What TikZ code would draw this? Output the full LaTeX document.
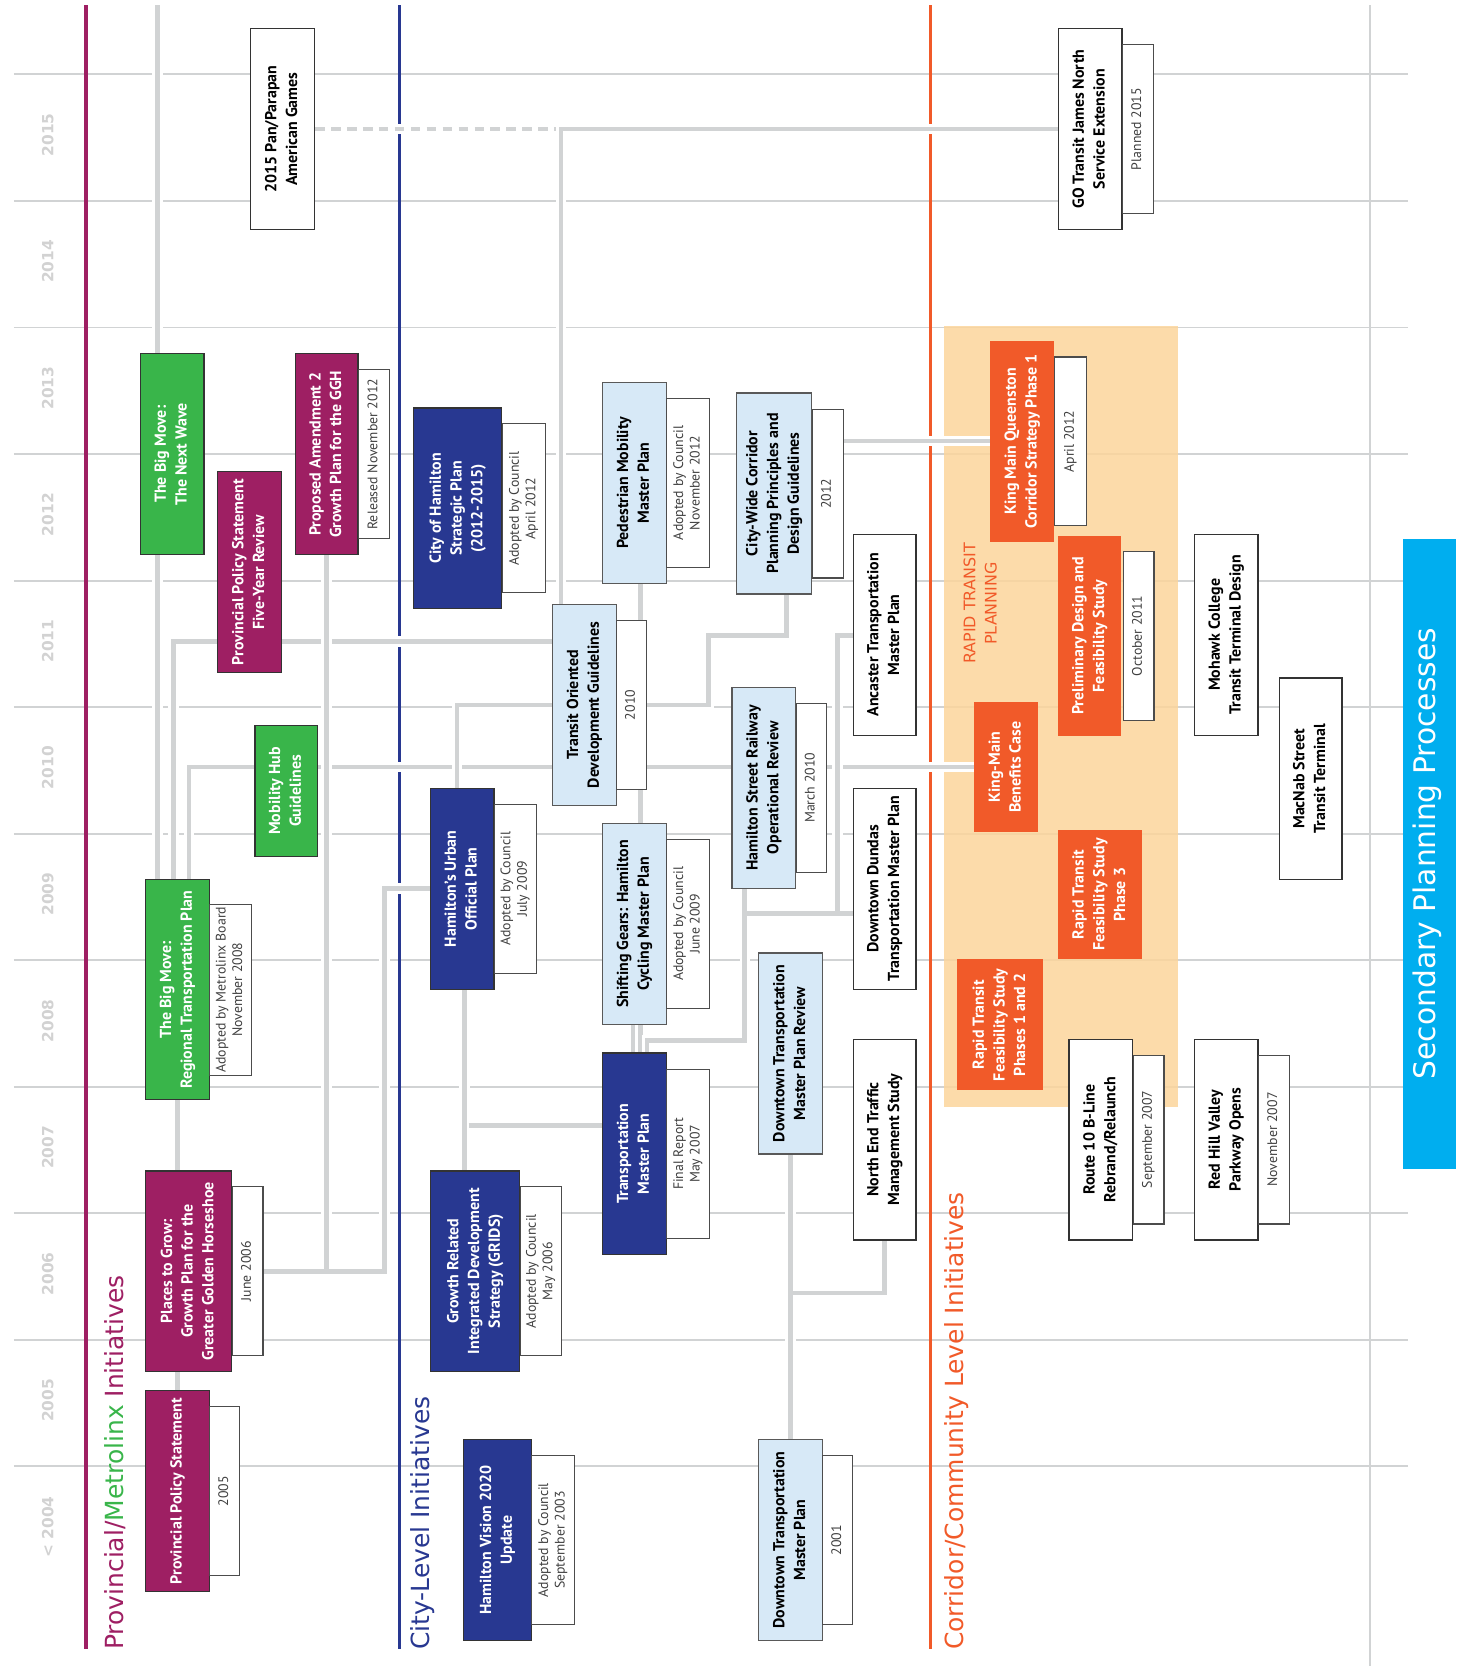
\documentclass[tikz,border=0pt]{standalone}
\usepackage{fontspec}
\setmainfont{PT Sans}
\newfontfamily\headfont{DejaVu Sans}
\usepackage{graphicx}
\usepackage{tikz}
\usetikzlibrary{positioning}
\pgfdeclarelayer{grid}
\pgfdeclarelayer{links}
\pgfsetlayers{grid,links,main}
\definecolor{provred}{HTML}{9E1F63}
\definecolor{mxgreen}{HTML}{39B54A}
\definecolor{cityblue}{HTML}{283891}
\definecolor{paleblue}{HTML}{D7E9F7}
\definecolor{rtorange}{HTML}{F15A29}
\definecolor{rtbg}{HTML}{FCD59B}
\definecolor{secblue}{HTML}{00AEEF}
\definecolor{linegray}{HTML}{D1D3D4}
\definecolor{yeargray}{HTML}{D2D2D2}
\definecolor{boxedge}{HTML}{333333}
\newcommand{\vtext}[1]{\rotatebox{90}{\begin{tabular}{@{}c@{}}#1\end{tabular}}}
\newcommand{\boxfont}{\fontsize{15}{19.5}\selectfont\bfseries}
\newcommand{\datefont}{\fontsize{13}{15.5}\selectfont}

\begin{document}
\begin{tikzpicture}[x=1pt, y=-1pt,
    yearline/.style={draw=linegray, line width=1.8pt},
    sideline/.style={line width=3pt},
    conn/.style={draw=linegray, line width=4.4pt,
      preaction={draw=white, line width=10pt, solid}},
    plan/.style={draw=boxedge, line width=1.2pt, inner sep=0pt,
      minimum width=60, minimum height=189, font=\boxfont},
    provbox/.style={plan, fill=provred, text=white},
    mxbox/.style={plan, fill=mxgreen, text=white},
    citybox/.style={plan, fill=cityblue, text=white},
    palebox/.style={plan, fill=paleblue, draw=black!65},
    plainbox/.style={plan, fill=white},
    rtbox/.style={plan, fill=rtorange, draw=none, text=white},
    datebox/.style={draw=black!70, line width=1pt, fill=white, inner sep=0pt,
      minimum width=29, minimum height=159, font=\datefont, text=black!75},
    yearlab/.style={font=\headfont\bfseries\fontsize{14.5}{16}\selectfont,
      text=yeargray},
    head/.style={font=\headfont\fontsize{23.5}{28}\selectfont, anchor=west,
      inner sep=0pt}
  ]
  \useasboundingbox (0,0) rectangle (1381,1568);

  \begin{pgfonlayer}{grid}
    \foreach \i in {0,...,11}
      \draw[yearline] (13,{70+119.1*\i}) -- (1325,{70+119.1*\i});
    \draw[yearline] (1289,5) -- (1289,1568);
    \fill[rtbg, opacity=.85] (888,307) rectangle (1109,1042);
    \draw[sideline, provred] (81,5) -- (81,1552);
    \draw[sideline, cityblue] (376,5) -- (376,1552);
    \draw[sideline, rtorange] (876,5) -- (876,1552);
  \end{pgfonlayer}

  \foreach \yr [count=\i from 0] in {2015,2014,2013,2012,2011,2010,2009,2008,2007,2006,2005,{< 2004}}
    \node[yearlab, rotate=90] (yr\i) at (45,{127+119.1*\i}) {\yr};

  \node[mxbox] (nextwave) at (162,427.5) {\vtext{The Big Move:\\The Next Wave}};
  \node[provbox] (ppsreview) at (235,538.5)
    {\vtext{Provincial Policy Statement\\Five-Year Review}};
  \node[provbox, minimum width=59] (amend) at (307.5,427.5)
    {\vtext{Proposed Amendment 2\\Growth Plan for the GGH}};
  \node[datebox, right=-0.6pt of amend] (amendd) {\vtext{Released November 2012}};
  \node[mxbox, minimum width=59, minimum height=123] (mobhub) at (269.5,744.5)
    {\vtext{Mobility Hub\\Guidelines}};
  \node[mxbox, minimum height=207] (rtp) at (167,931.5)
    {\vtext{The Big Move:\\Regional Transportation Plan}};
  \node[datebox, minimum width=39, minimum height=161, right=-0.6pt of rtp] (rtpd)
    {\vtext{Adopted by Metrolinx Board\\November 2008}};
  \node[provbox, minimum width=81] (ptg) at (177.5,1196.5)
    {\vtext{Places to Grow:\\Growth Plan for the\\Greater Golden Horseshoe}};
  \node[datebox, right=-0.6pt of ptg] (ptgd) {\vtext{June 2006}};
  \node[provbox] (pps) at (167,1403.5) {\vtext{Provincial Policy Statement}};
  \node[datebox, minimum width=28, right=-0.6pt of pps] (ppsd) {\vtext{2005}};
  \node[plainbox] (panam) at (266,121.5) {\vtext{2015 Pan/Parapan\\American Games}};

  \node[citybox, minimum width=83] (strat) at (430.5,478.5)
    {\vtext{City of Hamilton\\Strategic Plan\\(2012-2015)}};
  \node[datebox, minimum width=41, right=-0.6pt of strat] (stratd)
    {\vtext{Adopted by Council\\April 2012}};
  \node[palebox] (ped) at (597,454.5) {\vtext{Pedestrian Mobility\\Master Plan}};
  \node[datebox, minimum width=40, right=-0.6pt of ped] (pedd)
    {\vtext{Adopted by Council\\November 2012}};
  \node[palebox, minimum width=71] (cwc) at (728.5,464.5)
    {\vtext{City-Wide Corridor\\Planning Principles and\\Design Guidelines}};
  \node[datebox, right=-0.6pt of cwc] (cwcd) {\vtext{2012}};
  \node[palebox] (tod) at (550,663.5)
    {\vtext{Transit Oriented\\Development Guidelines}};
  \node[datebox, minimum width=28, right=-0.6pt of tod] (todd) {\vtext{2010}};
  \node[citybox] (uop) at (435,836.5) {\vtext{Hamilton’s Urban\\Official Plan}};
  \node[datebox, minimum width=39, right=-0.6pt of uop] (uopd)
    {\vtext{Adopted by Council\\July 2009}};
  \node[palebox] (hsr) at (719,741.5)
    {\vtext{Hamilton Street Railway\\Operational Review}};
  \node[datebox, minimum width=28, right=-0.6pt of hsr] (hsrd) {\vtext{March 2010}};
  \node[palebox] (gears) at (597,869.5)
    {\vtext{Shifting Gears: Hamilton\\Cycling Master Plan}};
  \node[datebox, minimum width=40, right=-0.6pt of gears] (gearsd)
    {\vtext{Adopted by Council\\June 2009}};
  \node[citybox, minimum height=190] (tmp) at (597,1086)
    {\vtext{Transportation\\Master Plan}};
  \node[datebox, minimum width=40, right=-0.6pt of tmp] (tmpd)
    {\vtext{Final Report\\May 2007}};
  \node[palebox] (dtmpr) at (744,991.5)
    {\vtext{Downtown Transportation\\Master Plan Review}};
  \node[citybox, minimum width=84] (grids) at (447,1196.5)
    {\vtext{Growth Related\\Integrated Development\\Strategy (GRIDS)}};
  \node[datebox, minimum width=39, right=-0.6pt of grids] (gridsd)
    {\vtext{Adopted by Council\\May 2006}};
  \node[citybox, minimum width=64] (vision) at (468,1449.5)
    {\vtext{Hamilton Vision 2020\\Update}};
  \node[datebox, minimum width=40, right=-0.6pt of vision] (visiond)
    {\vtext{Adopted by Council\\September 2003}};
  \node[palebox] (dtmp) at (744,1449.5)
    {\vtext{Downtown Transportation\\Master Plan}};
  \node[datebox, minimum width=28, right=-0.6pt of dtmp] (dtmpd) {\vtext{2001}};
  \node[plainbox, minimum width=59] (ancaster) at (832.5,597.5)
    {\vtext{Ancaster Transportation\\Master Plan}};
  \node[plainbox, minimum width=59] (dundas) at (832.5,836.5)
    {\vtext{Downtown Dundas\\Transportation Master Plan}};
  \node[plainbox, minimum width=59] (northend) at (832.5,1072.5)
    {\vtext{North End Traffic\\Management Study}};

  \node[rtbox] (kmq) at (962,415.5)
    {\vtext{King Main Queenston\\Corridor Strategy Phase 1}};
  \node[datebox, minimum width=30, right=-0.6pt of kmq] (kmqd) {\vtext{April 2012}};
  \node[rtbox, minimum width=59] (prelim) at (1025.5,598.5)
    {\vtext{Preliminary Design and\\Feasibility Study}};
  \node[datebox, right=1pt of prelim] (prelimd) {\vtext{October 2011}};
  \node[rtbox, minimum height=122] (benefits) at (947,722)
    {\vtext{King-Main\\Benefits Case}};
  \node[rtbox, minimum width=79, minimum height=122] (rtfs3) at (1035.5,842)
    {\vtext{Rapid Transit\\Feasibility Study\\Phase 3}};
  \node[rtbox, minimum width=81, minimum height=123] (rtfs12) at (941.5,964.5)
    {\vtext{Rapid Transit\\Feasibility Study\\Phases 1 and 2}};
  \node[plainbox] (route10) at (1036,1072.5)
    {\vtext{Route 10 B-Line\\Rebrand/Relaunch}};
  \node[datebox, right=-0.6pt of route10] (route10d) {\vtext{September 2007}};
  \node[plainbox] (mohawk) at (1154,597.5)
    {\vtext{Mohawk College\\Transit Terminal Design}};
  \node[plainbox, minimum width=59, minimum height=190] (macnab) at (1233.5,733)
    {\vtext{MacNab Street\\Transit Terminal}};
  \node[plainbox] (redhill) at (1154,1072.5)
    {\vtext{Red Hill Valley\\Parkway Opens}};
  \node[datebox, right=-0.6pt of redhill] (redhilld) {\vtext{November 2007}};
  \node[plainbox] (gotransit) at (1026,121.5)
    {\vtext{GO Transit James North\\Service Extension}};
  \node[datebox, right=-0.6pt of gotransit] (gotransitd) {\vtext{Planned 2015}};

  \node[font=\headfont\fontsize{15}{20}\selectfont, text=rtorange] (rtlabel)
    at (924,568) {\vtext{RAPID TRANSIT\\PLANNING}};
  \node[fill=secblue, minimum width=50, minimum height=593, inner sep=0pt,
    text=white, font=\headfont\fontsize{28}{32}\selectfont] (secondary)
    at (1345,803.5) {\vtext{Secondary Planning Processes}};

  \node[head, rotate=90] (provhead) at (108,1553)
    {\textcolor{provred}{Provincial/}\textcolor{mxgreen}{Metrolinx}
     \textcolor{provred}{Initiatives}};
  \node[head, rotate=90, text=cityblue] (cityhead) at (398,1553)
    {City-Level Initiatives};
  \node[head, rotate=90, text=rtorange] (rthead) at (900,1553)
    {Corridor/Community Level Initiatives};

  \begin{pgfonlayer}{links}
    \coordinate (bigtop) at (148,5);
    \draw[conn] (bigtop) -- (bigtop |- rtp.north);
    \draw[conn] (tod.west |- 0,604) -| (rtp.north -| 163,0);
    \draw[conn] (benefits.west) -| (rtp.north -| 178,0);
    \draw[conn] (rtp.south) -- (pps.north);
    \draw[conn] (uop.west) -| (362,1196.5) -- (ptgd.east)
      (amend.south) -- (amend.south |- ptgd.east);
    \draw[conn] (uop.north -| 430,0) |- (tod.west);
    \draw[conn] (uop.south -| 437,0) -- (grids.north -| 437,0)
      (441,1059) -- (tmp.west |- 0,1059);
    \coordinate (gamesjoin) at (528,121.5);
    \draw[conn, dash pattern=on 9pt off 6pt] (panam.east) -- (gamesjoin);
    \draw[conn] (gotransit.west) -- (gamesjoin) -- (gamesjoin |- tod.north);
    \draw[conn] (gears.south -| 596,0) -- (tmp.north -| 596,0);
    \draw[conn] (ped.south -| 603,0) -- (tmp.north -| 603,0);
    \draw[conn] (hsr.south -| 701,0) -- (701,979) -| (tmp.north -| 609,0)
      (701,860) -- (dundas.west |- 0,860)
      (ancaster.west |- 0,598) -| (788,860);
    \draw[conn] (cwc.south -| 740,0) |- (667,598) |- (todd.east);
    \draw[conn] (cwcd.east |- 0,415) -- (kmq.west |- 0,415);
    \draw[conn] (dtmpr.south) -- (dtmp.north)
      (dtmpr.south |- 0,1217) -| (northend.south);
  \end{pgfonlayer}
\end{tikzpicture}
\end{document}
